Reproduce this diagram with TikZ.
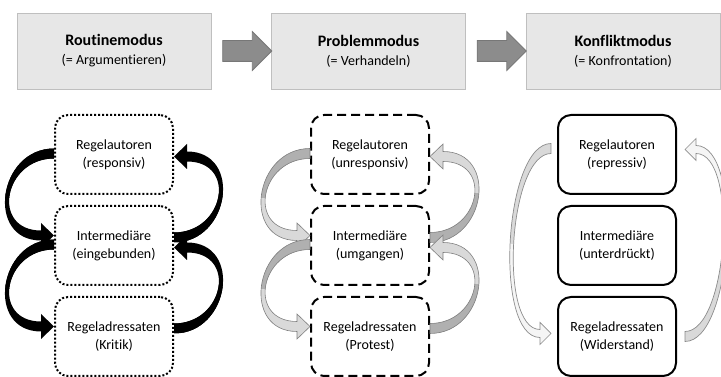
\documentclass[tikz,border=0pt]{standalone}
\usepackage{fontspec}
\setmainfont{Carlito}[Ligatures=NoCommon]
\usetikzlibrary{positioning,calc,shapes.arrows}

\definecolor{headfill}{HTML}{E7E7E7}
\definecolor{headline}{HTML}{BFBFBF}
\definecolor{modefill}{HTML}{8C8C8C}
\definecolor{modeline}{HTML}{777777}
\definecolor{problemfront}{HTML}{D9D9D9}
\definecolor{problemback}{HTML}{B0B0B0}
\definecolor{problemline}{HTML}{808080}
\definecolor{conflictfront}{HTML}{F5F5F5}
\definecolor{conflictback}{HTML}{D9D9D9}
\definecolor{conflictline}{HTML}{8C8C8C}

\newcommand{\bandstart}{5pt}
\newcommand{\bandend}{5pt}
\newcommand{\headhalf}{12.5pt}
\newcommand{\headlen}{13pt}
%% curved band arrow: [style]{back colour}{from}{to}{side}{dir}{bulge}
\newcommand{\bandarrow}[7][]{%
  \path[#1,path picture={\ifnum#6<0
      \fill[#2] (path picture bounding box.north west) rectangle (path picture bounding box.east);
    \else
      \fill[#2] (path picture bounding box.south west) rectangle (path picture bounding box.east);
    \fi}]
    let \p1=(#3), \p2=(#4) in
    (\x1,{\y1-(#6)*\bandstart})
      .. controls ({\x1+(#5)*#7pt},{\y1-(#6)*\bandstart})
      and ({\x2+(#5)*(\headlen+#7pt)},{\y2+(#6)*\bandend}) ..
    ({\x2+(#5)*\headlen},{\y2+(#6)*\bandend})
    -- ({\x2+(#5)*\headlen},{\y2+(#6)*\headhalf})
    -- (\x2,\y2)
    -- ({\x2+(#5)*\headlen},{\y2-(#6)*\headhalf})
    -- ({\x2+(#5)*\headlen},{\y2-(#6)*\bandend})
      .. controls ({\x2+(#5)*(\headlen+0.9*#7pt)},{\y2-(#6)*\bandend})
      and ({\x1+(#5)*0.9*#7pt},{\y1+(#6)*\bandstart}) ..
    (\x1,{\y1+(#6)*\bandstart}) -- cycle;}

\begin{document}
\begin{tikzpicture}[x=1pt,y=1pt,node distance=91pt,
  mode node/.style={rectangle,draw=headline,line width=0.8pt,fill=headfill,
    minimum width=194pt,minimum height=76pt,align=center,
    font=\fontsize{14}{19}\selectfont},
  mode arrow/.style={single arrow,draw=modeline,fill=modefill,line width=0.8pt,
    inner sep=0pt,inner ysep=10pt,minimum height=49pt,single arrow head extend=9pt},
  actor node/.style={rectangle,rounded corners=13pt,draw,line width=2pt,
    minimum width=118pt,minimum height=79pt,align=center,
    font=\fontsize{14}{18}\selectfont},
  routine/.style={actor node,dash pattern=on 2pt off 2pt},
  problem/.style={actor node,dash pattern=on 9pt off 5pt},
  conflict/.style={actor node},
  problem arrow/.style={fill=problemfront,draw=problemline,line width=0.6pt},
  conflict arrow/.style={fill=conflictfront,draw=conflictline,line width=0.7pt}]

  \useasboundingbox (0,0) rectangle (721,377);

  \node[mode node] (RM) at (114,326) {{\fontsize{16}{19}\selectfont\bfseries Routinemodus}\\(= Argumentieren)};
  \node[mode node] (PM) [right of=RM, node distance=254.5pt] {{\fontsize{16}{19}\selectfont\bfseries Problemmodus}\\(= Verhandeln)};
  \node[mode node] (KM) [right of=PM, node distance=254.5pt] {{\fontsize{16}{19}\selectfont\bfseries Konfliktmodus}\\(= Konfrontation)};
  \node[mode arrow] (RP) [right of=RM, node distance=128pt] {};
  \node[mode arrow] (PK) [right of=PM, node distance=128pt] {};

  \node[routine] (RA1) [below of=RM, node distance=103.5pt] {Regelautoren\\(responsiv)};
  \node[routine] (IM1) [below of=RA1] {Intermediäre\\(eingebunden)};
  \node[routine] (RD1) [below of=IM1] {Regeladressaten\\(Kritik)};
  \node[problem] (RA2) [right of=RA1, node distance=256pt] {Regelautoren\\(unresponsiv)};
  \node[problem] (IM2) [below of=RA2] {Intermediäre\\(umgangen)};
  \node[problem] (RD2) [below of=IM2] {Regeladressaten\\(Protest)};
  \node[conflict] (RA3) [right of=RA2, node distance=247pt] {Regelautoren\\(repressiv)};
  \node[conflict] (IM3) [below of=RA3] {Intermediäre\\(unterdrückt)};
  \node[conflict] (RD3) [below of=IM3] {Regeladressaten\\(Widerstand)};

  %% routine mode
  \bandarrow[fill=black]{black}{$(RA1.west)+(0,1pt)$}{$(IM1.west)+(0,10pt)$}{-1}{-1}{56}
  \bandarrow[fill=black]{black}{$(IM1.west)+(0,1pt)$}{$(RD1.west)+(0,10pt)$}{-1}{-1}{56}
  \bandarrow[fill=black]{black}{$(IM1.east)+(0,8pt)$}{$(RA1.east)+(0,-2pt)$}{1}{1}{56}
  \bandarrow[fill=black]{black}{$(RD1.east)+(0,8pt)$}{$(IM1.east)+(0,-2pt)$}{1}{1}{56}

  %% problem mode
  \bandarrow[problem arrow]{problemback}{$(RA2.west)+(0,1pt)$}{$(IM2.west)+(0,10pt)$}{-1}{-1}{56}
  \bandarrow[problem arrow]{problemback}{$(IM2.west)+(0,1pt)$}{$(RD2.west)+(0,10pt)$}{-1}{-1}{56}
  \bandarrow[problem arrow]{problemback}{$(IM2.east)+(0,8pt)$}{$(RA2.east)+(0,-2pt)$}{1}{1}{56}
  \bandarrow[problem arrow]{problemback}{$(RD2.east)+(0,8pt)$}{$(IM2.east)+(0,-2pt)$}{1}{1}{56}

  %% conflict mode
  \renewcommand{\bandend}{4pt}
  \renewcommand{\headhalf}{11pt}
  \renewcommand{\headlen}{11pt}
  \bandarrow[conflict arrow]{conflictback}{$(RA3.west)+(-6pt,6pt)$}{$(RD3.west)+(-6pt,3pt)$}{-1}{-1}{47}
  \bandarrow[conflict arrow]{conflictback}{$(RD3.east)+(8pt,0)$}{$(RA3.east)+(8pt,5pt)$}{1}{1}{48}
\end{tikzpicture}
\end{document}
